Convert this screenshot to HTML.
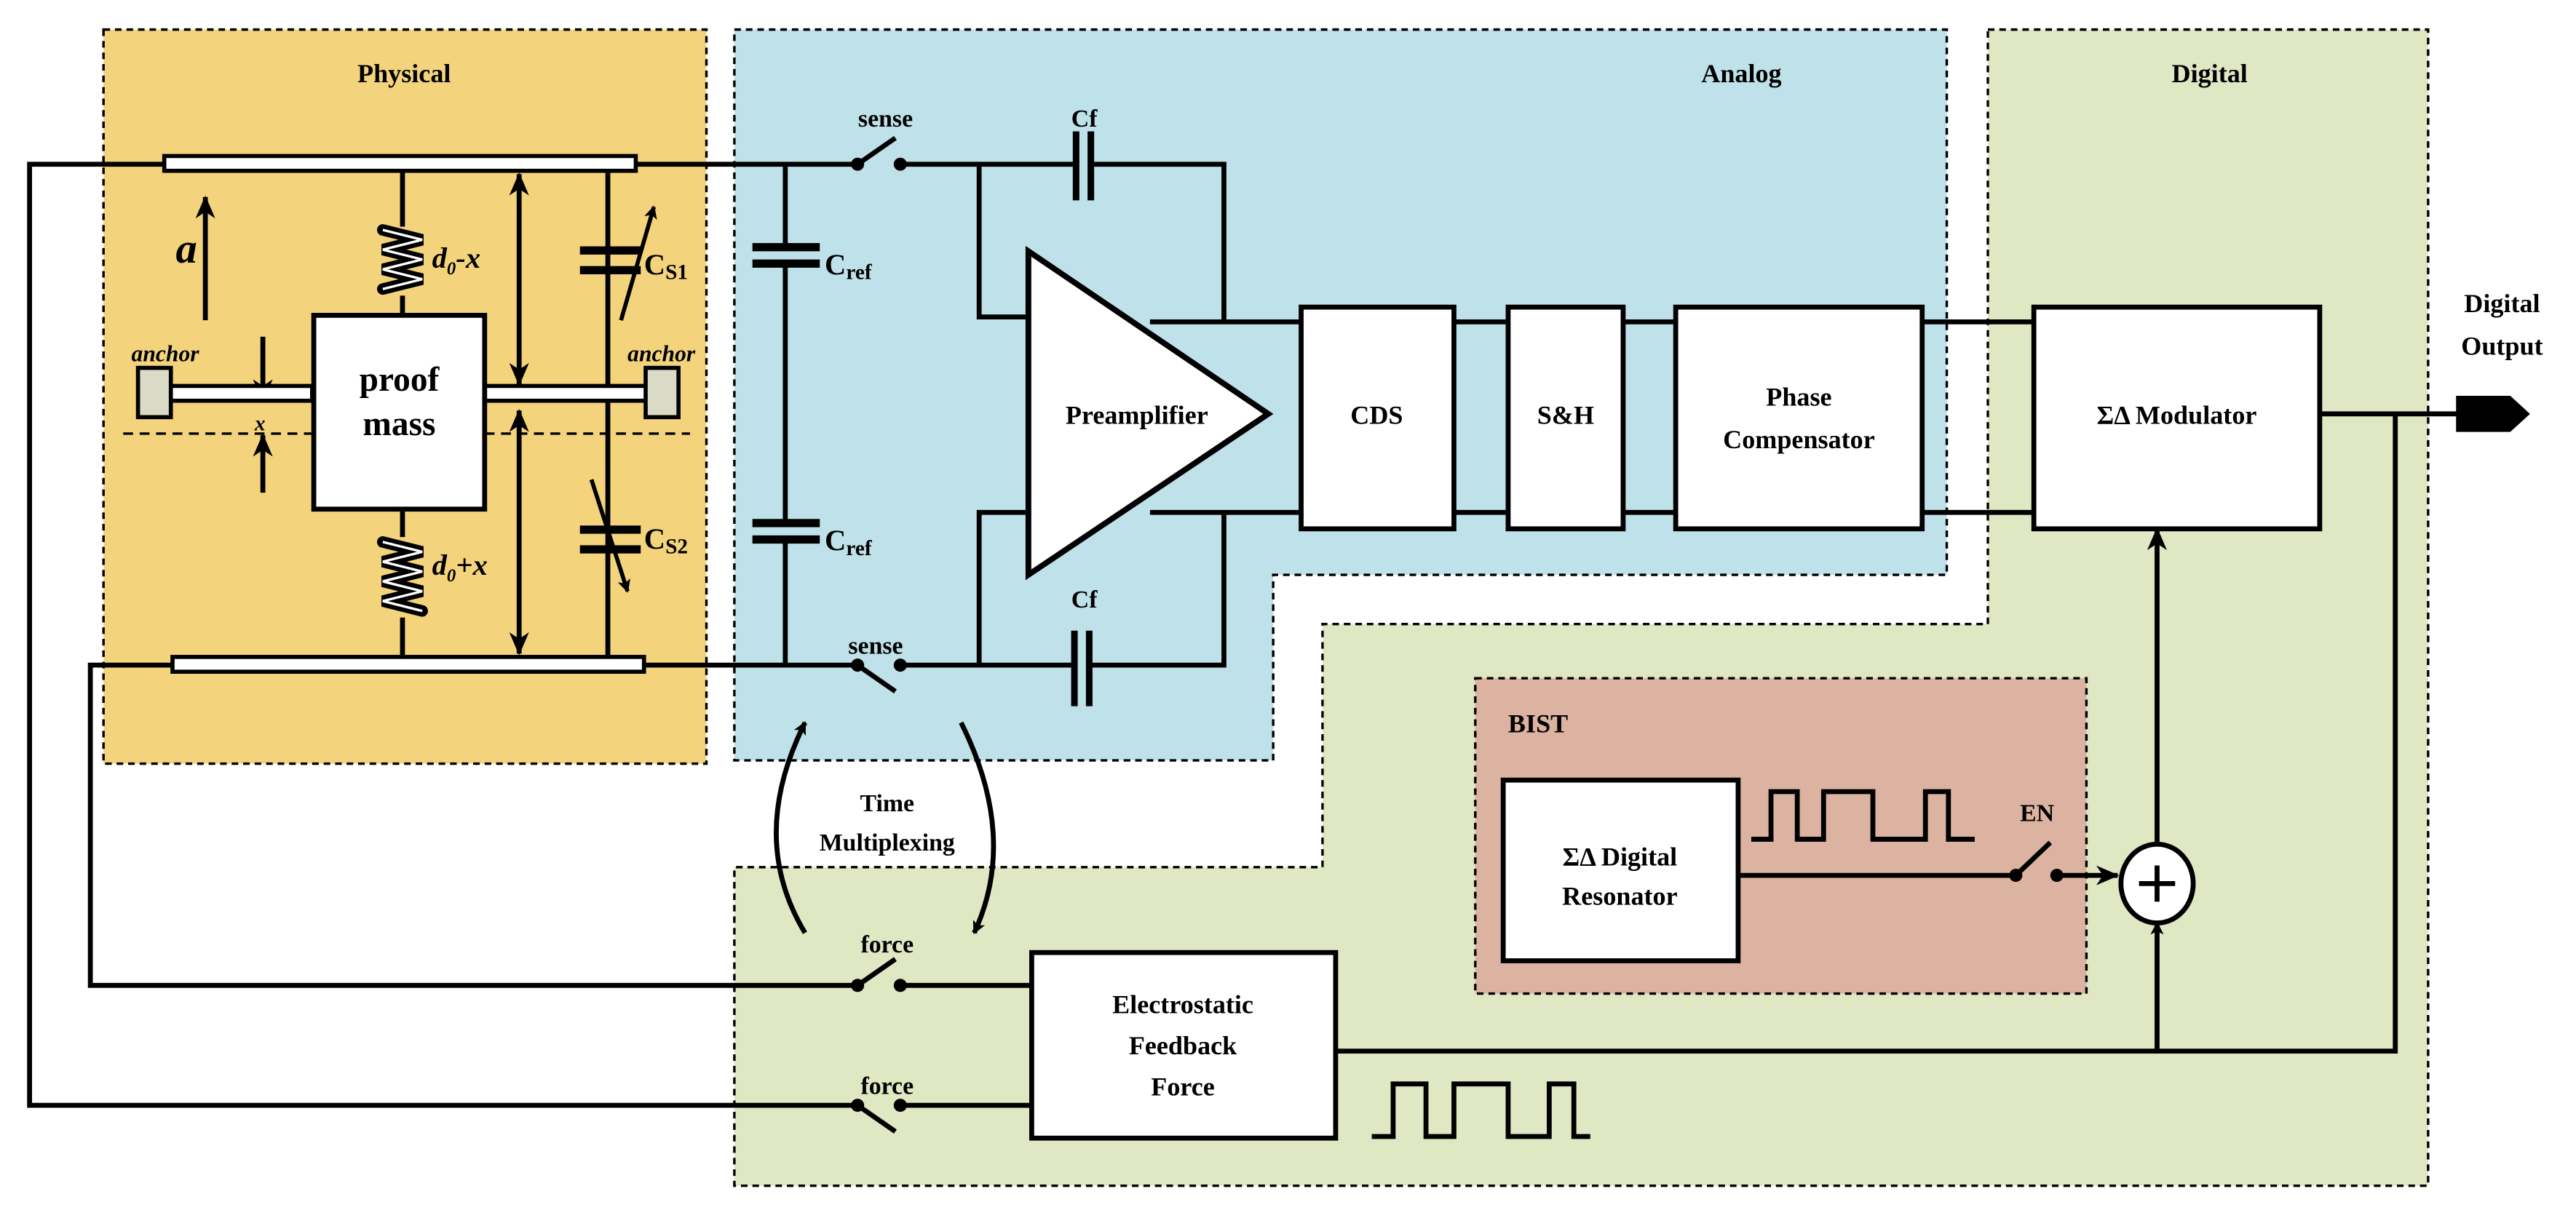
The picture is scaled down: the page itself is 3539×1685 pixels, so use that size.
<!DOCTYPE html>
<html><head><meta charset="utf-8"><style>
html,body{margin:0;padding:0;background:#fff;}
svg{display:block;}
text{font-family:"Liberation Serif","DejaVu Serif","Times New Roman",serif;font-weight:bold;fill:#000;}
</style></head><body>
<svg width="3539" height="1685" viewBox="0 0 1568 746.5" preserveAspectRatio="none" xmlns="http://www.w3.org/2000/svg">
<defs>
<marker id="ah" markerWidth="8" markerHeight="8" refX="7" refY="4" orient="auto" markerUnits="userSpaceOnUse"><path d="M0,0 L8,4 L0,8 L2,4 z" fill="#000"/></marker>
<marker id="ah2" markerWidth="14" markerHeight="12" refX="13" refY="6" orient="auto-start-reverse" markerUnits="userSpaceOnUse"><path d="M0,0 L14,6 L0,12 L4,6 z" fill="#000"/></marker>
</defs>
<g stroke="#000" stroke-width="1.5" stroke-dasharray="4,3">
<rect x="63" y="18" width="367" height="447" fill="#f3d47c"/>
<path d="M447,18 H1185 V350 H775 V463 H447 Z" fill="#bfe1ea"/>
<path d="M1210,18 H1478 V722 H447 V528 H805 V380 H1210 Z" fill="#dfe7c3"/>
<rect x="898" y="413" width="372" height="192" fill="#dcb3a0"/>
</g>
<text x="246" y="50" font-size="16" text-anchor="middle">Physical</text>
<text x="1060" y="50" font-size="16" text-anchor="middle">Analog</text>
<text x="1345" y="50" font-size="16" text-anchor="middle">Digital</text>
<text x="918" y="446" font-size="16">BIST</text>

<g stroke="#000" stroke-width="3" fill="none">
<polyline points="100,100 18,100 18,673 522,673"/>
<polyline points="105,405 55,405 55,600 522,600"/>
<line x1="245" y1="103" x2="245" y2="138"/>
<line x1="245" y1="180" x2="245" y2="192"/>
<line x1="245" y1="310" x2="245" y2="327"/>
<line x1="245" y1="376" x2="245" y2="400"/>
<line x1="370" y1="103" x2="370" y2="400"/>
<line x1="125" y1="195" x2="125" y2="120" marker-end="url(#ah2)"/>
<line x1="316" y1="106" x2="316" y2="234" marker-end="url(#ah2)" marker-start="url(#ah2)"/>
<line x1="316" y1="250" x2="316" y2="398" marker-end="url(#ah2)" marker-start="url(#ah2)"/>
<line x1="160" y1="205" x2="160" y2="244" marker-end="url(#ah2)"/>
<line x1="160" y1="300" x2="160" y2="265" marker-end="url(#ah2)"/>
<line x1="387" y1="100" x2="520" y2="100"/>
<line x1="548" y1="100" x2="655" y2="100"/>
<polyline points="664,100 745,100 745,196"/>
<polyline points="596,100 596,193 627,193"/>
<line x1="392" y1="405" x2="520" y2="405"/>
<line x1="548" y1="405" x2="653" y2="405"/>
<polyline points="662,405 745,405 745,312"/>
<polyline points="596,405 596,312 627,312"/>
<line x1="478" y1="100" x2="478" y2="150"/>
<line x1="478" y1="160" x2="478" y2="318"/>
<line x1="478" y1="328" x2="478" y2="405"/>
<line x1="700" y1="196" x2="792" y2="196"/>
<line x1="700" y1="312" x2="792" y2="312"/>
<line x1="885" y1="196" x2="918" y2="196"/><line x1="885" y1="312" x2="918" y2="312"/>
<line x1="988" y1="196" x2="1020" y2="196"/><line x1="988" y1="312" x2="1020" y2="312"/>
<line x1="1170" y1="196" x2="1238" y2="196"/><line x1="1170" y1="312" x2="1238" y2="312"/>
<line x1="1412" y1="252" x2="1497" y2="252"/>
<polyline points="1458,252 1458,640 813,640"/>
<line x1="1313" y1="640" x2="1313" y2="562" marker-end="url(#ah)"/>
<line x1="1313" y1="514" x2="1313" y2="322" marker-end="url(#ah2)"/>
<line x1="1058" y1="533" x2="1225" y2="533"/>
<line x1="1252" y1="533" x2="1289" y2="533" marker-end="url(#ah2)"/>
<line x1="548" y1="600" x2="628" y2="600"/>
<line x1="548" y1="673" x2="628" y2="673"/>
<line x1="522" y1="100" x2="545" y2="84"/>
<line x1="522" y1="405" x2="545" y2="421"/>
<line x1="522" y1="600" x2="545" y2="584"/>
<line x1="522" y1="673" x2="545" y2="689"/>
<line x1="1227" y1="533" x2="1248" y2="513"/>
<polyline points="1066,511 1078,511 1078,482 1094,482 1094,511 1110,511 1110,482 1140,482 1140,511 1172,511 1172,482 1186,482 1186,511 1202,511"/>
<polyline points="835,692 848,692 848,660 868,660 868,692 885,692 885,660 918,660 918,692 943,692 943,660 958,660 958,692 968,692"/>
<path d="M490,568 Q455,510 490,440" marker-end="url(#ah)"/>
<path d="M585,440 Q620,510 593,568" marker-end="url(#ah)"/>
</g>
<rect x="100" y="95" width="287" height="9" fill="#fff" stroke="#000" stroke-width="2.5"/>
<rect x="105" y="400" width="287" height="9" fill="#fff" stroke="#000" stroke-width="2.5"/>
<rect x="102" y="235" width="88" height="9" fill="#fff" stroke="#000" stroke-width="2.5"/>
<rect x="295" y="235" width="100" height="9" fill="#fff" stroke="#000" stroke-width="2.5"/>
<rect x="84" y="224" width="20" height="30" fill="#dadbc6" stroke="#000" stroke-width="2.5"/>
<rect x="393" y="224" width="20" height="30" fill="#dadbc6" stroke="#000" stroke-width="2.5"/>
<line x1="75" y1="264" x2="420" y2="264" stroke="#000" stroke-width="1.5" stroke-dasharray="6,4"/>
<rect x="191" y="192" width="104" height="118" fill="#fff" stroke="#000" stroke-width="3"/>
<text x="243" y="238" font-size="21" text-anchor="middle">proof</text>
<text x="243" y="265" font-size="21" text-anchor="middle">mass</text>
<g fill="none" stroke="#000" stroke-width="7" stroke-linecap="round">
<path d="M233,140 L257,146 L233,152 L257,158 L233,164 L257,170 L233,176"/>
<path d="M233,330 L257,336 L233,342 L257,348 L233,354 L257,360 L233,366 L257,372"/>
</g>
<g fill="none" stroke="#fff" stroke-width="1.5">
<path d="M233,140 L257,146 L233,152 L257,158 L233,164 L257,170 L233,176"/>
<path d="M233,330 L257,336 L233,342 L257,348 L233,354 L257,360 L233,366 L257,372"/>
</g>
<g fill="#000">
<rect x="353" y="150" width="37" height="5"/><rect x="353" y="162" width="37" height="5"/>
<rect x="353" y="320" width="37" height="5"/><rect x="353" y="332" width="37" height="5"/>
<rect x="458" y="148" width="41" height="5"/><rect x="458" y="158" width="41" height="5"/>
<rect x="458" y="316" width="41" height="5"/><rect x="458" y="326" width="41" height="5"/>
<rect x="653" y="80" width="4" height="42"/><rect x="662" y="80" width="4" height="42"/>
<rect x="652" y="384" width="4" height="46"/><rect x="661" y="384" width="4" height="46"/>
<circle cx="522" cy="100" r="4"/><circle cx="548" cy="100" r="4"/>
<circle cx="522" cy="405" r="4"/><circle cx="548" cy="405" r="4"/>
<circle cx="522" cy="600" r="4"/><circle cx="548" cy="600" r="4"/>
<circle cx="522" cy="673" r="4"/><circle cx="548" cy="673" r="4"/>
<circle cx="1227" cy="533" r="4"/><circle cx="1252" cy="533" r="4"/>
</g>
<g stroke="#000" stroke-width="2.5" fill="none">
<line x1="378" y1="195" x2="398" y2="126" marker-end="url(#ah)"/>
<line x1="360" y1="292" x2="382" y2="360" marker-end="url(#ah)"/>
</g>
<polygon points="626,153 626,350 772,252" fill="#fff" stroke="#000" stroke-width="3.5"/>
<text x="692" y="258" font-size="16" text-anchor="middle">Preamplifier</text>
<g fill="#fff" stroke="#000" stroke-width="3">
<rect x="792" y="187" width="93" height="135"/>
<rect x="918" y="187" width="70" height="135"/>
<rect x="1020" y="187" width="150" height="135"/>
<rect x="1238" y="187" width="174" height="135"/>
<rect x="628" y="580" width="185" height="113"/>
<rect x="915" y="475" width="143" height="110"/>
<ellipse cx="1313" cy="538" rx="22" ry="24"/>
</g>
<path d="M1313,527 V549 M1302,538 H1324" stroke="#000" stroke-width="3"/>
<path d="M1495,241 H1528 L1540,252 L1528,263 H1495 Z" fill="#000"/>
<text x="838" y="258" font-size="16" text-anchor="middle">CDS</text>
<text x="953" y="258" font-size="16" text-anchor="middle">S&amp;H</text>
<text x="1095" y="247" font-size="16" text-anchor="middle">Phase</text>
<text x="1095" y="273" font-size="16" text-anchor="middle">Compensator</text>
<text x="1325" y="258" font-size="16" text-anchor="middle">ΣΔ Modulator</text>
<text x="1523" y="190" font-size="16" text-anchor="middle">Digital</text>
<text x="1523" y="216" font-size="16" text-anchor="middle">Output</text>
<text x="720" y="617" font-size="16" text-anchor="middle">Electrostatic</text>
<text x="720" y="642" font-size="16" text-anchor="middle">Feedback</text>
<text x="720" y="667" font-size="16" text-anchor="middle">Force</text>
<text x="986" y="527" font-size="16" text-anchor="middle">ΣΔ Digital</text>
<text x="986" y="551" font-size="16" text-anchor="middle">Resonator</text>
<text x="1240" y="500" font-size="15" text-anchor="middle">EN</text>
<text x="539" y="77" font-size="15" text-anchor="middle">sense</text>
<text x="533" y="398" font-size="15" text-anchor="middle">sense</text>
<text x="540" y="580" font-size="15" text-anchor="middle">force</text>
<text x="540" y="666" font-size="15" text-anchor="middle">force</text>
<text x="660" y="77" font-size="15" text-anchor="middle">Cf</text>
<text x="660" y="370" font-size="15" text-anchor="middle">Cf</text>
<text x="540" y="494" font-size="15" text-anchor="middle">Time</text>
<text x="540" y="518" font-size="15" text-anchor="middle">Multiplexing</text>
<text x="502" y="167" font-size="18">C<tspan font-size="13" dy="3">ref</tspan></text>
<text x="502" y="335" font-size="18">C<tspan font-size="13" dy="3">ref</tspan></text>
<text x="392" y="167" font-size="18">C<tspan font-size="13" dy="3">S1</tspan></text>
<text x="392" y="334" font-size="18">C<tspan font-size="13" dy="3">S2</tspan></text>
<text x="107" y="160" font-size="26" font-style="italic">a</text>
<text x="263" y="163" font-size="18" font-style="italic">d<tspan font-size="11" dy="4">0</tspan><tspan dy="-4">-x</tspan></text>
<text x="263" y="350" font-size="18" font-style="italic">d<tspan font-size="11" dy="4">0</tspan><tspan dy="-4">+x</tspan></text>
<text x="80" y="220" font-size="14" font-style="italic">anchor</text>
<text x="382" y="220" font-size="14" font-style="italic">anchor</text>
<text x="155" y="262" font-size="13" font-style="italic">x</text>
</svg>
</body></html>
